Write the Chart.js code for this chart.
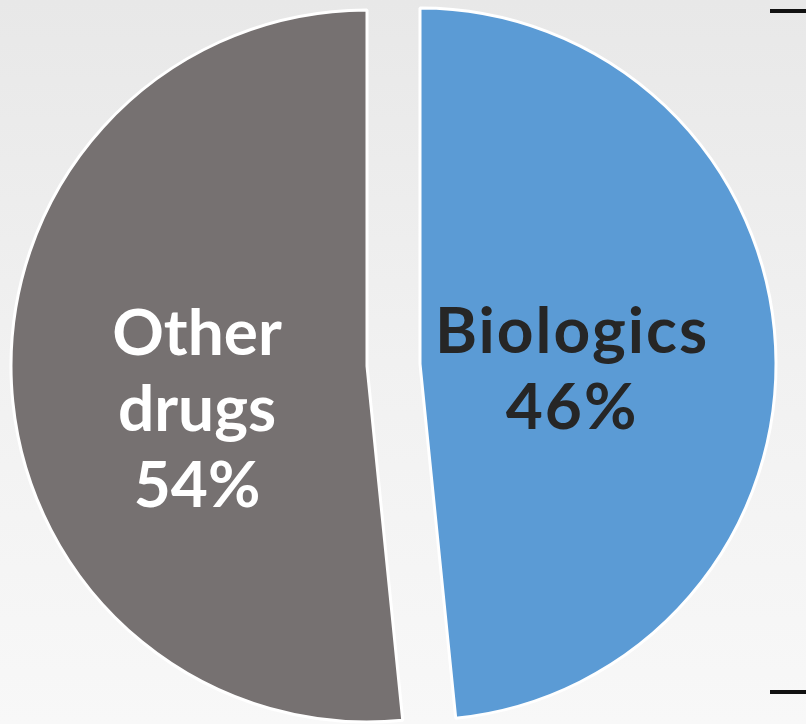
<!DOCTYPE html>
<html>
<head>
<meta charset="utf-8">
<script src="https://cdn.jsdelivr.net/npm/chart.js@4/dist/chart.umd.min.js"></script>
<style>
  html, body {
    margin: 0;
    padding: 0;
  }
  body {
    width: 806px;
    height: 724px;
    overflow: hidden;
    position: relative;
    background: linear-gradient(to bottom, #e8e8e8 0%, #f1f1f1 50%, #f8f8f8 100%);
  }
  canvas {
    position: absolute;
    left: 0;
    top: 0;
  }
  .brace {
    position: absolute;
    left: 770px;
    width: 40px;
    height: 4px;
    background: #111;
  }
</style>
</head>
<body>
<canvas id="otherChart" width="806" height="724"></canvas>
<canvas id="bioChart" width="806" height="724"></canvas>
<div class="brace" style="top: 9px; border-top-right-radius: 3px;"></div>
<div class="brace" style="top: 690px; border-bottom-right-radius: 3px;"></div>
<script>
// data
const categories = ['Biologics', 'Other drugs'];
const sliceShares = [48.4, 51.6]; // share of the circle as drawn
const shareLabels = ['46%', '54%'];
const labelLines = [['Biologics', shareLabels[0]], ['Other', 'drugs', shareLabels[1]]];

const sliceColors = ['#5b9bd5', '#767171'];
const textColors = ['#262626', '#ffffff'];

// draws the text lines of the visible slice, anchored to the arc centre
const sliceText = {
  id: 'sliceText',
  afterDatasetsDraw(chart, args, opts) {
    let ctx = chart.ctx;
    let arc = chart.getDatasetMeta(0).data[opts.index];
    let lines = labelLines[opts.index];
    ctx.save();
    ctx.font = 'bold 64px Lato, "DejaVu Sans", sans-serif';
    ctx.letterSpacing = opts.spacing;
    ctx.fillStyle = textColors[opts.index];
    ctx.textAlign = 'center';
    ctx.textBaseline = 'alphabetic';
    for (let i = 0; i < lines.length; i++) {
      ctx.fillText(lines[i], arc.x + opts.dx, arc.y + opts.dy + i * 76);
    }
    ctx.restore();
  }
};

function makePie(canvasId, shown, padding, textPos, spacing) {
  let colors = sliceColors.map((c, i) => (i === shown ? c : 'rgba(0,0,0,0)'));
  let borders = sliceColors.map((c, i) => (i === shown ? '#ffffff' : 'rgba(0,0,0,0)'));
  return new Chart(document.getElementById(canvasId), {
    type: 'pie',
    data: {
      labels: categories,
      datasets: [
        {
          data: sliceShares,
          backgroundColor: colors,
          borderColor: borders,
          borderWidth: 3,
          radius: 356,
          clip: false
        }
      ]
    },
    options: {
      responsive: false,
      animation: false,
      devicePixelRatio: 1,
      layout: { padding: padding },
      events: [],
      plugins: {
        legend: { display: false },
        tooltip: { enabled: false },
        sliceText: { index: shown, dx: textPos[0], dy: textPos[1], spacing: spacing }
      }
    },
    plugins: [sliceText]
  });
}

// grey slice stays put, blue slice is pulled out to the right
makePie('otherChart', 1, { left: 0, right: 72, top: 8, bottom: 0 }, [-170, -11], '0px');
makePie('bioChart', 0, { left: 34, right: 0, top: 4, bottom: 0 }, [152, -11], '2px');
</script>
</body>
</html>
